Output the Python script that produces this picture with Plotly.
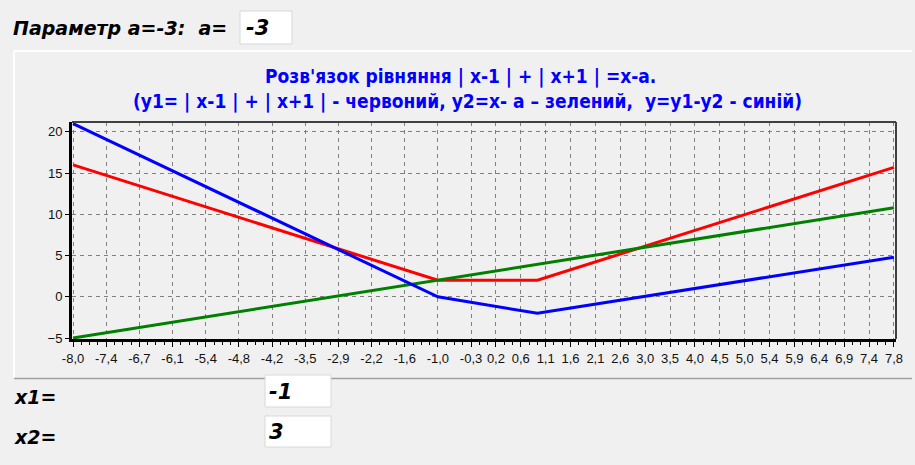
import plotly.graph_objects as go

# ---- data ----
x_pts = [-8.0, -0.96, 0.96, 7.84]
y1_red = [16.0, 2.0, 2.0, 15.7]      # y1 = |x-1| + |x+1|
y2_green = [-5.0, 2.0, 4.0, 10.8]    # y2 = x - a
y_blue = [21.0, 0.0, -2.0, 4.8]      # y = y1 - y2

x_tick_vals = [-8.0, -7.36, -6.72, -6.08, -5.44, -4.8, -4.16, -3.52, -2.88, -2.24,
               -1.6, -0.96, -0.32, 0.16, 0.64, 1.12, 1.6, 2.08, 2.56, 3.04,
               3.52, 4.0, 4.48, 4.96, 5.44, 5.92, 6.4, 6.88, 7.36, 7.84]
x_tick_text = ["-8,0", "-7,4", "-6,7", "-6,1", "-5,4", "-4,8", "-4,2", "-3,5", "-2,9", "-2,2",
               "-1,6", "-1,0", "-0,3", "0,2", "0,6", "1,1", "1,6", "2,1", "2,6", "3,0",
               "3,5", "4,0", "4,5", "5,0", "5,4", "5,9", "6,4", "6,9", "7,4", "7,8"]
y_tick_vals = [-5, 0, 5, 10, 15, 20]

param_label = "Параметр а=-3:  а="
param_value = "-3"
x1_value = "-1"
x2_value = "3"
title_line1 = "Розв'язок рівняння | x-1 | + | x+1 | =x-a."
title_line2 = "(y1= | x-1 | + | x+1 | - червоний, y2=x- a – зелений,  y=y1-y2 - синій)"

# ---- layout geometry ----
W, H = 915, 465
L, R, T, B = 72, 19, 122, 126
PW, PH = W - L - R, H - T - B


def px(x):
    return (x - L) / PW


def py(y):
    return (H - B - y) / PH


fig = go.Figure()
fig.add_trace(go.Scatter(x=x_pts, y=y1_red, mode="lines",
                         line=dict(color="#ff0000", width=3), showlegend=False))
fig.add_trace(go.Scatter(x=x_pts, y=y2_green, mode="lines",
                         line=dict(color="#008000", width=3), showlegend=False))
fig.add_trace(go.Scatter(x=x_pts, y=y_blue, mode="lines",
                         line=dict(color="#0000ff", width=3), showlegend=False))

grid_common = dict(showgrid=True, gridcolor="#808080", gridwidth=1, griddash="4px,4px",
                   zeroline=False)

fig.update_xaxes(range=[-8.02, 7.88], tickmode="array", tickvals=x_tick_vals,
                 ticktext=x_tick_text, ticks="outside", ticklen=5, tickwidth=1,
                 tickcolor="#000", showline=True, linecolor="#000", linewidth=3,
                 tickfont=dict(family="Liberation Sans, Arial", size=13, color="#111"),
                 minor=dict(tickmode="linear", tick0=-8.0, dtick=0.16, ticks="outside",
                            ticklen=3, tickcolor="#000", showgrid=False),
                 **grid_common)
fig.update_yaxes(range=[-5.12, 21.2], tickmode="array", tickvals=y_tick_vals,
                 ticks="outside", ticklen=4, tickcolor="#000", showline=True,
                 linecolor="#000", linewidth=3,
                 tickfont=dict(family="Liberation Sans, Arial", size=13, color="#111"),
                 **grid_common)

shapes = []
# chart panel bevel: white top/left, grey bottom
shapes.append(dict(type="line", xref="paper", yref="paper", x0=px(14), x1=px(912),
                   y0=py(51), y1=py(51), line=dict(color="#ffffff", width=2), layer="below"))
shapes.append(dict(type="line", xref="paper", yref="paper", x0=px(14), x1=px(14),
                   y0=py(51), y1=py(378), line=dict(color="#ffffff", width=2), layer="below"))
shapes.append(dict(type="line", xref="paper", yref="paper", x0=px(14), x1=px(912),
                   y0=py(378.5), y1=py(378.5), line=dict(color="#a0a0a0", width=1.5)))
# plot frame top/right
shapes.append(dict(type="line", xref="paper", yref="paper", x0=0, x1=1, y0=1, y1=1,
                   line=dict(color="#404040", width=2)))
shapes.append(dict(type="line", xref="paper", yref="paper", x0=1, x1=1, y0=0, y1=1,
                   line=dict(color="#404040", width=2)))
# edit boxes
for (x0, y0, x1b, y1b) in [(240, 11, 292, 44), (265, 375, 331, 407), (265, 416, 331, 447)]:
    shapes.append(dict(type="rect", xref="paper", yref="paper", x0=px(x0), x1=px(x1b),
                       y0=py(y1b), y1=py(y0), fillcolor="#ffffff",
                       line=dict(color="#d8d8d8", width=1)))

lbl_font = dict(family="DejaVu Sans", size=19, color="#000")
val_font = dict(family="DejaVu Sans", size=21, color="#000")
title_font = dict(family="DejaVu Sans Condensed, Liberation Sans Narrow, Liberation Sans",
                  size=19, color="#0000ff")
annotations = [
    dict(text="<b><i>" + param_label + "</i></b>", x=px(11), y=py(28), xanchor="left",
         yanchor="middle", font=lbl_font),
    dict(text="<b><i>" + param_value + "</i></b>", x=px(244), y=py(28), xanchor="left",
         yanchor="middle", font=val_font),
    dict(text="<b><i>x1=</i></b>", x=px(12), y=py(397), xanchor="left", yanchor="middle",
         font=lbl_font),
    dict(text="<b><i>x2=</i></b>", x=px(12), y=py(437), xanchor="left", yanchor="middle",
         font=lbl_font),
    dict(text="<b><i>" + x1_value + "</i></b>", x=px(267), y=py(392), xanchor="left",
         yanchor="middle", font=val_font),
    dict(text="<b><i>" + x2_value + "</i></b>", x=px(267), y=py(432), xanchor="left",
         yanchor="middle", font=val_font),
    dict(text="<b>" + title_line1 + "</b>", x=px(460), y=py(76), xanchor="center",
         yanchor="middle", font=title_font),
    dict(text="<b>" + title_line2 + "</b>", x=px(467), y=py(101), xanchor="center",
         yanchor="middle", font=title_font),
]
for a in annotations:
    a.update(xref="paper", yref="paper", showarrow=False)

fig.update_layout(width=W, height=H, margin=dict(l=L, r=R, t=T, b=B, pad=0),
                  paper_bgcolor="#f0f0f0", plot_bgcolor="#f0f0f0",
                  shapes=shapes, annotations=annotations, showlegend=False)

fig.write_html("out.html", config={"displayModeBar": False},
               post_script="document.body.style.margin='0px';"
                           "document.body.style.overflow='hidden';")
